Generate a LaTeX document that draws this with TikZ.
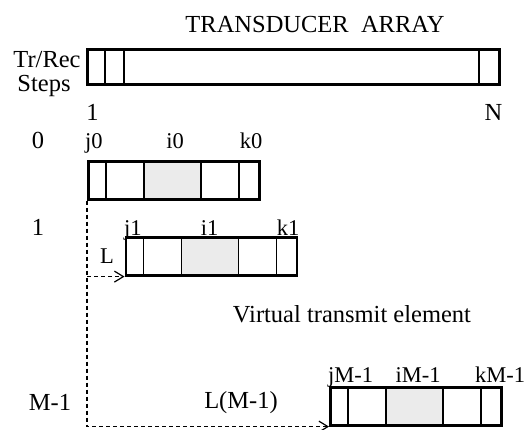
\documentclass[tikz,border=0pt]{standalone}
\usepackage{fontspec}
\setmainfont{Liberation Serif}
\usetikzlibrary{arrows.meta}
\tikzset{
  big/.style={font=\fontsize{24.5}{28}\selectfont, inner sep=0pt, anchor=base},
  lbl/.style={font=\fontsize{22.5}{26}\selectfont, inner sep=0pt, anchor=base},
  outerbox/.style={draw, line width=2.6pt, inner sep=0pt, minimum height=38pt, minimum width=171pt, anchor=north west},
  cellline/.style={line width=1.5pt},
  shade/.style={fill=black!8},
  dashline/.style={dashed, dash pattern=on 4pt off 3pt, line width=1.2pt, -{Straight Barb[length=9pt,width=11pt,line width=1.2pt]}}
}
\newcommand\elbox[3]{%
  \fill[shade] (#2+57,#3) rectangle (#2+114,#3+38);
  \draw[cellline] (#2+19,#3) -- (#2+19,#3+38);
  \draw[cellline] (#2+57,#3) -- (#2+57,#3+38);
  \draw[cellline] (#2+114,#3) -- (#2+114,#3+38);
  \draw[cellline] (#2+152,#3) -- (#2+152,#3+38);
  \node[outerbox] (#1) at (#2,#3) {};
}
\begin{document}
\begin{tikzpicture}[x=1pt,y=-1pt]
\useasboundingbox (0,0) rectangle (529,429);
% title and array
\node[big] (title) at (315,32) {TRANSDUCER\ \ ARRAY};
\draw[cellline] (105,48) -- (105,83);
\draw[cellline] (124,48) -- (124,83);
\draw[cellline] (479,48) -- (479,83);
\node[draw, line width=2.6pt, inner sep=0pt, minimum width=412pt, minimum height=35pt, anchor=north west] (arr) at (86,48) {};
\node[big] (trrec) at (47,67) {Tr/Rec};
\node[big] (steps) at (44,91) {Steps};
\node[big] (one) at (92.5,120) {1};
\node[big] (enn) at (493.5,120) {N};
% row 0
\node[big] (r0) at (38,148) {0};
\node[lbl, anchor=base west] (j0) at (85,148) {j0};
\node[lbl] (i0) at (175,148) {i0};
\node[lbl] (k0) at (251,148) {k0};
\elbox{b0}{87}{160}
% row 1
\node[big] (r1) at (38,235) {1};
\elbox{b1}{124.5}{236}
\node[lbl, anchor=base west] (j1) at (124,235) {j1};
\node[lbl] (i1) at (209.5,235) {i1};
\node[lbl] (k1) at (288,235) {k1};
\node[lbl] (L) at (107,263) {L};
% text
\node[big] (vte) at (352,322) {Virtual transmit element};
% row M-1
\node[big] (rM) at (50,410) {M-1};
\node[big] (LM) at (241,408) {L(M-1)};
\elbox{bM}{329}{386}
\node[lbl, anchor=base west] (jM) at (328,382) {jM-1};
\node[lbl] (iM) at (418,382) {iM-1};
\node[lbl] (kM) at (500,382) {kM-1};
% dashed connectors
\coordinate (c1) at (b0.south west |- b1.south west);
\draw[dashline] (b0.south west) |- (bM.south west);
\draw[dashline] (c1) -- (b1.south west);
\end{tikzpicture}
\end{document}
